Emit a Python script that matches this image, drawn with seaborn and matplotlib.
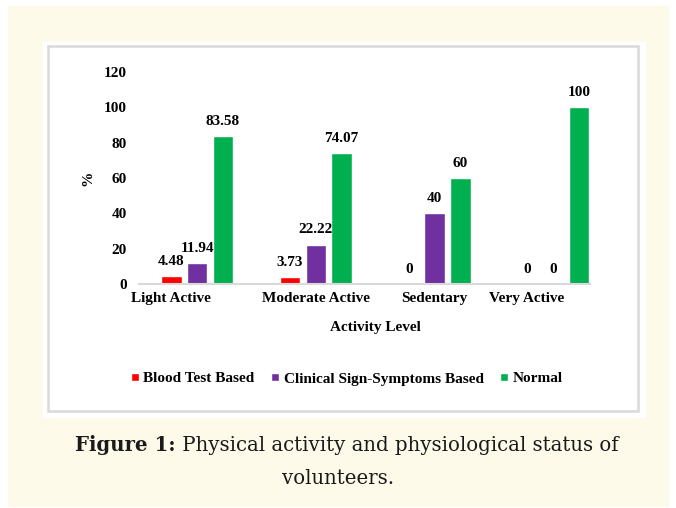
import matplotlib
matplotlib.use("Agg")
import matplotlib.pyplot as plt
import matplotlib.patches as mpatches
from matplotlib.transforms import ScaledTranslation
import pandas as pd
import seaborn as sns

categories = ["Light Active", "Moderate Active", "Sedentary", "Very Active"]
series_names = ["Blood Test Based", "Clinical Sign-Symptoms Based", "Normal"]
blood_test = [4.48, 3.73, 0, 0]
clinical = [11.94, 22.22, 40, 0]
normal = [83.58, 74.07, 60, 100]
colors = ["#ff0000", "#7030a0", "#00b050"]
y_ticks = [0, 20, 40, 60, 80, 100, 120]

df = pd.DataFrame({
    "level": categories * 3,
    "pct": blood_test + clinical + normal,
    "group": [s for s in series_names for _ in categories],
})

sns.set_theme(style="white")
plt.rcParams["font.family"] = ["Liberation Serif", "DejaVu Serif"]
plt.rcParams["text.color"] = "black"
plt.rcParams["axes.labelcolor"] = "black"
plt.rcParams["xtick.color"] = "black"
plt.rcParams["ytick.color"] = "black"

W, H = 676, 508
fig = plt.figure(figsize=(W / 100, H / 100), dpi=100)

# cream page + white framed panel
fig.patches.append(mpatches.Rectangle((8 / W, 1 - 506 / H), 660 / W, 500 / H,
                                      transform=fig.transFigure, color="#fefae9", zorder=-3))
fig.patches.append(mpatches.Rectangle((43 / W, 1 - 417 / H), 602 / W, 375 / H,
                                      transform=fig.transFigure, color="white", zorder=-2))
fig.patches.append(mpatches.Rectangle((48 / W, 1 - 411 / H), 590 / W, 365 / H,
                                      transform=fig.transFigure, facecolor="none",
                                      edgecolor="#d9d9d9", lw=1.8, zorder=-1))

ax = fig.add_axes([139 / W, 1 - 284 / H, 451 / W, 212 / H])
ax.set_facecolor("none")
sns.barplot(data=df, x="level", y="pct", hue="group", palette=colors,
            width=0.65, gap=0.2, ax=ax, legend=True, saturation=1)

for cont in ax.containers:
    ax.bar_label(cont, labels=[f"{v:g}" for v in cont.datavalues], padding=6,
                 fontsize=11, fontweight="bold")

ax.set_ylim(0, 120)
ax.set_yticks(y_ticks)
ax.set_xlim(-0.49, 3.31)
for s in ["top", "right", "left"]:
    ax.spines[s].set_visible(False)
ax.spines["bottom"].set_color("#d9d9d9")
ax.spines["bottom"].set_linewidth(1.5)
ax.tick_params(axis="both", length=0, labelsize=11)
ax.tick_params(axis="y", pad=9)
ax.tick_params(axis="x", pad=6)
for lab in ax.get_xticklabels() + ax.get_yticklabels():
    lab.set_fontweight("bold")

# excel placed the outer category labels a little to the left
x_shift = [-26, 0, 0, -27]
for lab, dx in zip(ax.get_xticklabels(), x_shift):
    lab.set_transform(lab.get_transform() + ScaledTranslation(dx / 100, 0, fig.dpi_scale_trans))

ax.set_xlabel("Activity Level", fontsize=11, fontweight="bold")
ax.set_ylabel("%", fontsize=11, fontweight="bold")
ax.xaxis.label.set_va("center")
ax.yaxis.label.set_va("center")
ax.xaxis.set_label_coords((375 - 139) / 451, -(327 - 284) / 212)
ax.yaxis.set_label_coords(-(139 - 88) / 451, 0.5)

handles, labels = ax.get_legend_handles_labels()
ax.get_legend().remove()
fig.legend(handles, labels, loc="center", bbox_to_anchor=(347 / W, 1 - 379 / H),
           ncol=3, frameon=False, handlelength=0.5, handleheight=0.5,
           handletextpad=0.3, columnspacing=1.1, prop={"weight": "bold", "size": 11})

cap_font = ["DejaVu Serif"]
cap = fig.text(75 / W, 1 - 445 / H, "Figure 1:", fontsize=14.2, fontweight="bold",
               family=cap_font, color="#1a1a1a", ha="left", va="center")
ax.annotate(" Physical activity and physiological status of", xy=(1, 0), xycoords=cap,
            ha="left", va="bottom", fontsize=14.2, family=cap_font, color="#1a1a1a",
            annotation_clip=False)
fig.text(338 / W, 1 - 478 / H, "volunteers.", fontsize=14.2, family=cap_font,
         color="#1a1a1a", ha="center", va="center")

fig.savefig("out.png", dpi=100)
